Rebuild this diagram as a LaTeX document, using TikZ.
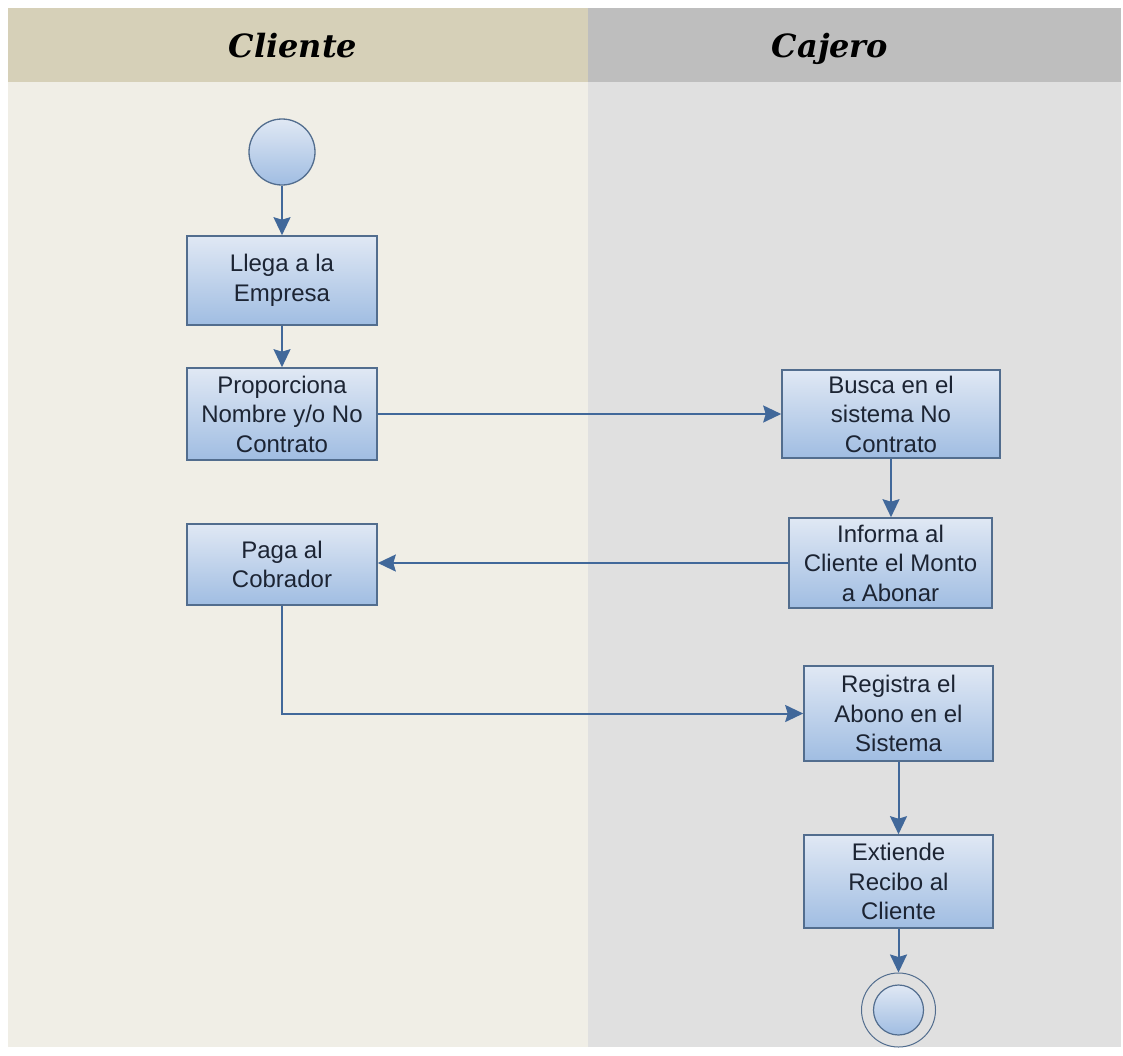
\documentclass[tikz,border=0pt]{standalone}
\usepackage{fontspec}
\setmainfont{Liberation Sans}
\newfontfamily\headfont{DejaVu Serif}
\usetikzlibrary{arrows.meta,shadings}

\definecolor{laneAhead}{HTML}{D6D0B8}
\definecolor{laneAbody}{HTML}{F0EEE6}
\definecolor{laneBhead}{HTML}{BEBEBE}
\definecolor{laneBbody}{HTML}{E0E0E0}
\definecolor{flow}{HTML}{41689A}
\definecolor{boxline}{HTML}{526D8E}
\definecolor{boxtop}{HTML}{E0E8F4}
\definecolor{boxbot}{HTML}{A0BDE2}
\definecolor{txt}{HTML}{1C2433}

\tikzset{
  action/.style={draw=boxline, line width=1.6pt, top color=boxtop, bottom color=boxbot,
    align=center, font=\fontsize{24}{29.5}\selectfont, text=txt, inner sep=0pt},
  startnode/.style={circle, draw=boxline, line width=1.3pt, top color=boxtop, bottom color=boxbot,
    minimum size=66pt, inner sep=0pt},
  flowline/.style={draw=flow, line width=2pt, -{Stealth[length=18pt,width=17pt,inset=2.5pt]}},
  lanetitle/.style={font=\headfont\bfseries\itshape\fontsize{32}{38}\selectfont, text=black, anchor=base}
}

\begin{document}
\begin{tikzpicture}[x=1pt,y=-1pt]
  \useasboundingbox (0,0) rectangle (1123,1055);
  \fill[white] (0,0) rectangle (1123,1055);

  % swimlanes
  \fill[laneAbody] (8,82) rectangle (588,1047);
  \fill[laneBbody] (588,82) rectangle (1121,1047);
  \fill[laneAhead] (8,8) rectangle (588,82);
  \fill[laneBhead] (588,8) rectangle (1121,82);
  \node[lanetitle] (tcliente) at (293,57) {Cliente};
  \node[lanetitle] (tcajero) at (830,57) {Cajero};

  % activities
  \node[startnode] (start) at (282,152) {};
  \node[action, minimum width=190pt, minimum height=89pt] (llega) at (282,280.5) {Llega a la\\Empresa};
  \node[action, minimum width=190pt, minimum height=92pt] (prop) at (282,414) {Proporciona\\Nombre y/o No\\Contrato};
  \node[action, minimum width=218pt, minimum height=88pt] (busca) at (891,414) {Busca en el\\sistema No\\Contrato};
  \node[action, minimum width=203pt, minimum height=90pt] (informa) at (890.5,563) {Informa al\\Cliente el Monto\\a Abonar};
  \node[action, minimum width=190pt, minimum height=81pt] (paga) at (282,564.5) {Paga al\\Cobrador};
  \node[action, minimum width=189pt, minimum height=95pt] (registra) at (898.5,713.5) {Registra el\\Abono en el\\Sistema};
  \node[action, minimum width=189pt, minimum height=93pt] (extiende) at (898.5,881.5) {Extiende\\Recibo al\\Cliente};

  % final state
  \node[circle, draw=boxline, line width=1pt, minimum size=74pt, inner sep=0pt] (fin) at (898.5,1010) {};
  \node[circle, draw=boxline, line width=1.2pt, top color=boxtop, bottom color=boxbot,
        minimum size=50pt, inner sep=0pt] (finin) at (fin.center) {};

  % control flow
  \draw[flowline] (start) -- (llega);
  \draw[flowline] (llega) -- (prop);
  \draw[flowline] (prop) -- (busca);
  \draw[flowline] (busca.south) -- (busca.south |- informa.north);
  \draw[flowline] (informa.west) -- (informa.west -| paga.east);
  \draw[flowline] (paga.south) |- (registra.west);
  \draw[flowline] (registra.south) -- (extiende.north);
  \draw[flowline] (extiende.south) -- (fin.north);
\end{tikzpicture}
\end{document}
